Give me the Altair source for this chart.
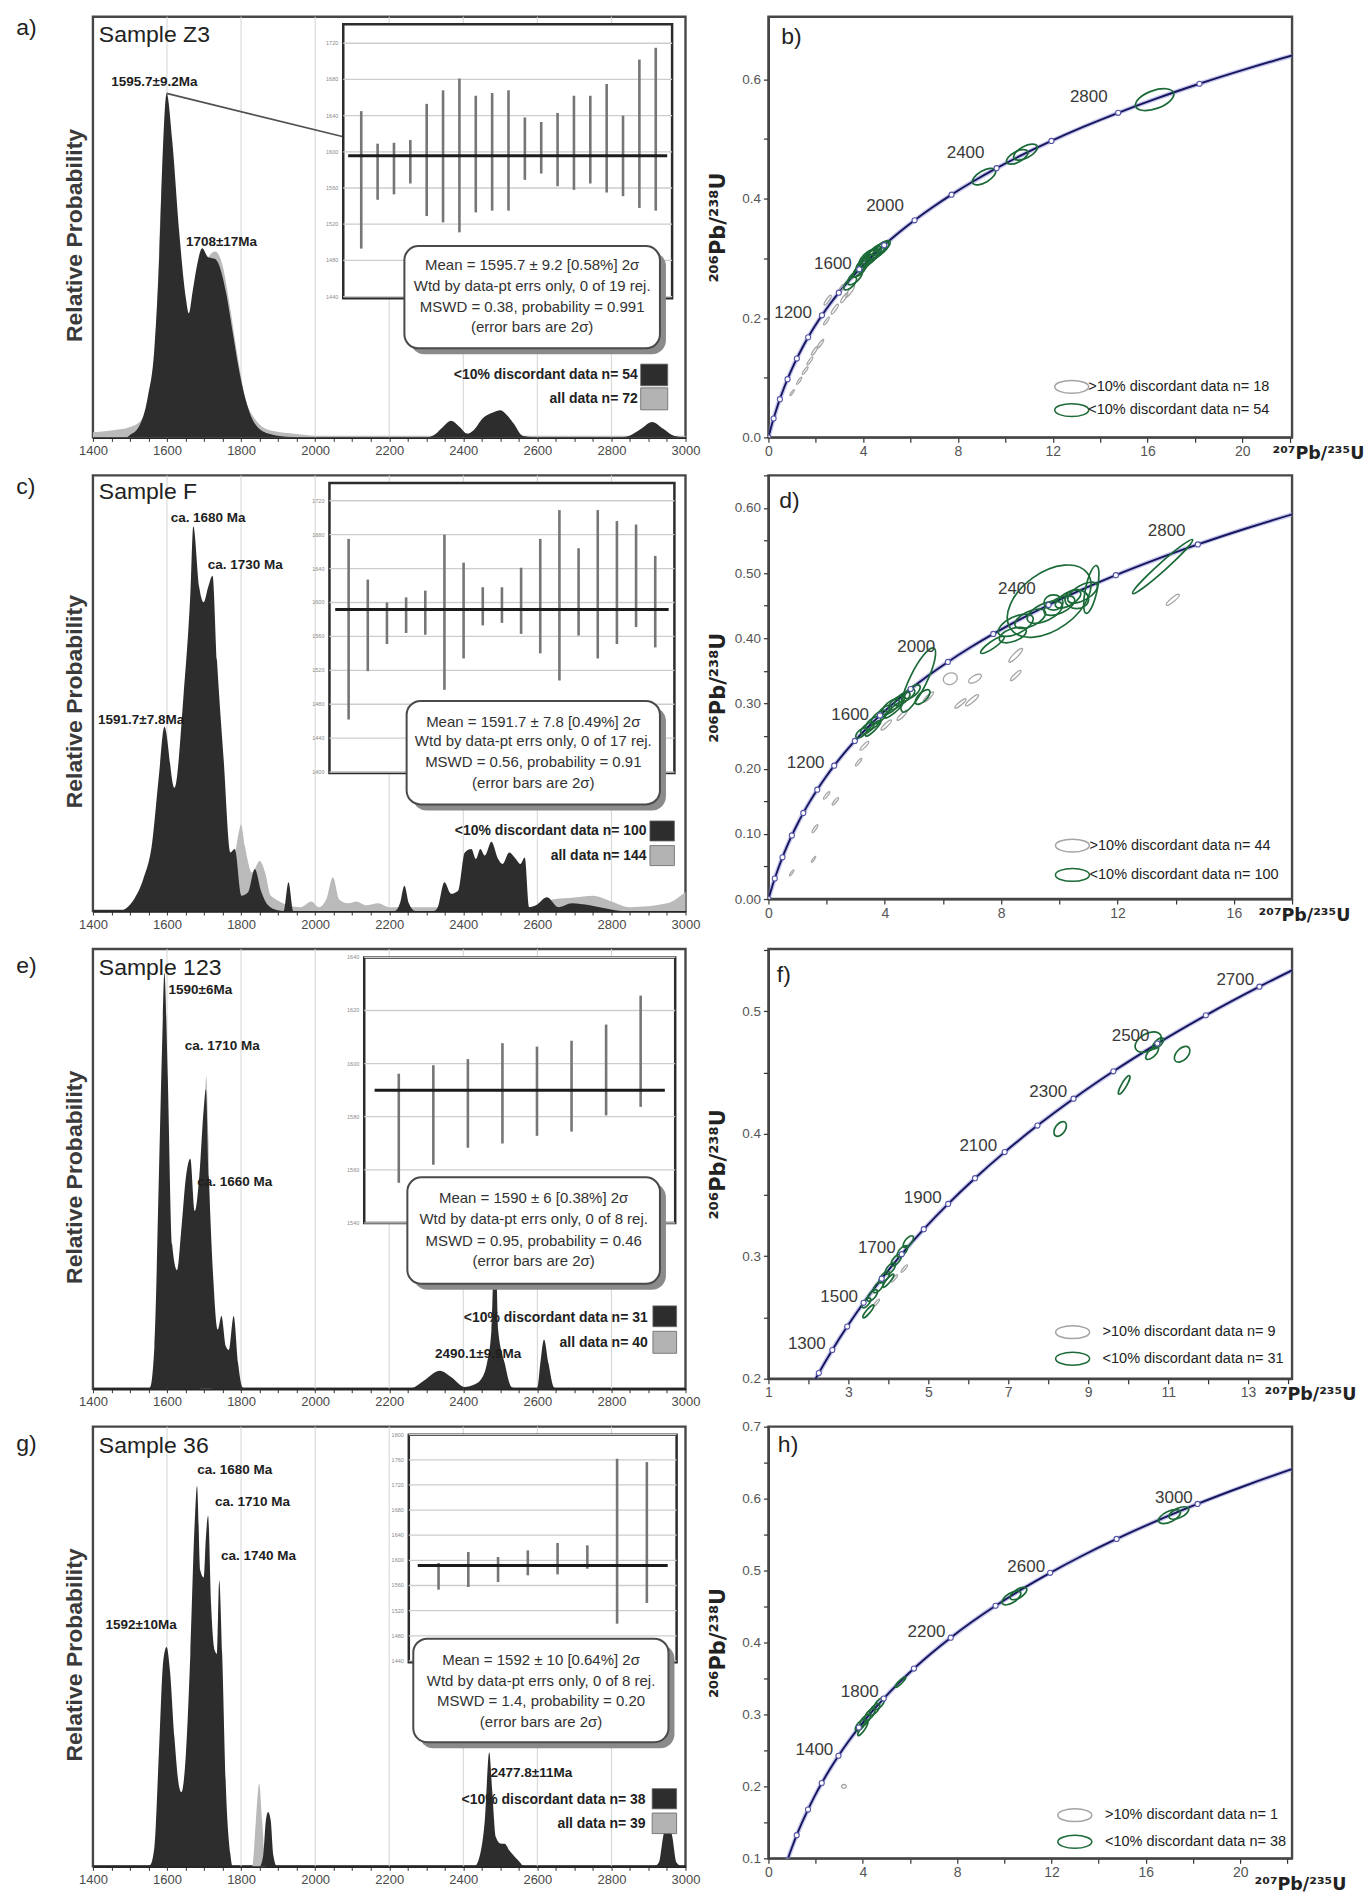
import json
import altair as alt
import pandas as pd

FONT = "Liberation Sans"
SUPFONT = "DejaVu Sans"

# ---------------- relative probability curves (age Ma, relative probability) ----------------
a_dark_age = [1400, 1490, 1500, 1524, 1548, 1566, 1578, 1587, 1599, 1614, 1633, 1651, 1659, 1669, 1681, 1695, 1711,
              1729, 1741, 1759, 1777, 1795, 1813, 1837, 1873, 1922, 1994,
              2300, 2325, 2345, 2367, 2390, 2410, 2428, 2452, 2480, 2500, 2520, 2536, 2560, 2600,
              2820, 2849, 2880, 2910, 2940, 2970, 3000]
a_dark_rel = [0, 0, 0.007, 0.031, 0.117, 0.26, 0.5, 0.787, 1.0, 0.864, 0.596, 0.404, 0.361, 0.423, 0.5, 0.55, 0.524,
              0.519, 0.5, 0.423, 0.308, 0.193, 0.107, 0.04, 0.011, 0.002, 0,
              0, 0.01, 0.03, 0.048, 0.03, 0.011, 0.021, 0.055, 0.072, 0.079, 0.062, 0.04, 0.005, 0,
              0, 0.005, 0.025, 0.045, 0.025, 0.004, 0]
a_all_age = [1400, 1450, 1500, 1530, 1560, 1599, 1650, 1700, 1730, 1750, 1770, 1790, 1810, 1840, 1880, 1950, 2000, 3000]
a_all_rel = [0.015, 0.02, 0.03, 0.05, 0.15, 0.9, 0.3, 0.5, 0.54, 0.5, 0.38, 0.24, 0.12, 0.05, 0.02, 0.01, 0.005, 0.005]

c_dark_age = [1400, 1470, 1488, 1512, 1536, 1560, 1578, 1593, 1620, 1645, 1663, 1671, 1687, 1699, 1711, 1723, 1735,
              1753, 1771, 1783, 1801, 1819, 1837, 1855, 1873, 1898, 1915, 1928, 1941, 1960,
              2215, 2229, 2241, 2253, 2270, 2320, 2331, 2349, 2367, 2386, 2404, 2422, 2434, 2446, 2458, 2476,
              2494, 2506, 2524, 2542, 2554, 2566, 2578, 2596, 2626, 2657, 2693, 2741, 2789, 2830, 3000]
c_dark_rel = [0, 0, 0.006, 0.032, 0.083, 0.178, 0.35, 0.479, 0.32, 0.565, 0.824, 1.0, 0.841, 0.802, 0.841, 0.871,
              0.651, 0.393, 0.152, 0.161, 0.04, 0.049, 0.109, 0.049, 0.015, 0.002, 0, 0.075, 0, 0,
              0, 0.02, 0.066, 0.02, 0, 0, 0.01, 0.075, 0.045, 0.053, 0.152, 0.161, 0.135, 0.161, 0.144, 0.18,
              0.135, 0.122, 0.152, 0.135, 0.122, 0.139, 0.01, 0.015, 0.036, 0.01, 0.02, 0.015, 0.006, 0, 0]
c_all_age = [1400, 1760, 1780, 1793, 1800, 1810, 1830, 1850, 1865, 1880, 1960, 1990, 2010, 2030, 2048, 2065, 2090,
             2110, 2140, 2170, 2200, 2600, 2640, 2700, 2750, 2800, 2850, 2950, 3000]
c_all_rel = [0, 0, 0.12, 0.2, 0.225, 0.17, 0.1, 0.13, 0.1, 0.04, 0.01, 0.025, 0.01, 0.03, 0.088, 0.03, 0.02,
             0.025, 0.015, 0.02, 0.01, 0.01, 0.03, 0.035, 0.04, 0.025, 0.01, 0.02, 0.05]

e_dark_age = [1400, 1545, 1554, 1566, 1578, 1587, 1593, 1602, 1614, 1627, 1639, 1651, 1663, 1675, 1687, 1699, 1705,
              1713, 1725, 1737, 1747, 1759, 1767, 1780, 1792, 1804, 1815,
              2250, 2269, 2295, 2337, 2367, 2404, 2430, 2446, 2464, 2476, 2486, 2494, 2512, 2530, 2545, 2590,
              2600, 2608, 2618, 2630, 2645, 2660, 3000]
e_dark_rel = [0, 0, 0.003, 0.102, 0.508, 0.833, 1.0, 0.752, 0.346, 0.285, 0.386, 0.508, 0.553, 0.427, 0.508, 0.671,
              0.72, 0.508, 0.264, 0.142, 0.175, 0.102, 0.093, 0.175, 0.061, 0.003, 0,
              0, 0.004, 0.02, 0.043, 0.028, 0.004, 0.01, 0.02, 0.061, 0.142, 0.4, 0.142, 0.061, 0.004, 0, 0,
              0.003, 0.061, 0.118, 0.061, 0.003, 0, 0]
e_all_age = [1400, 1540, 1560, 1690, 1700, 1706, 1712, 1722, 3000]
e_all_rel = [0, 0, 0, 0, 0.6, 0.75, 0.6, 0, 0]

g_dark_age = [1400, 1540, 1554, 1566, 1578, 1590, 1599, 1608, 1620, 1633, 1639, 1651, 1663, 1675, 1681, 1690, 1699,
              1705, 1711, 1719, 1729, 1735, 1741, 1749, 1759, 1771, 1777,
              1850, 1860, 1867, 1873, 1880, 1887, 1897,
              2430, 2445, 2458, 2470, 2478, 2488, 2500, 2512, 2524, 2548, 2565,
              2915, 2928, 2940, 2952, 2964, 2976, 2990, 3000]
g_dark_rel = [0, 0, 0.003, 0.051, 0.296, 0.541, 0.576, 0.514, 0.339, 0.208, 0.195, 0.296, 0.558, 0.908, 1.0, 0.777,
              0.759, 0.864, 0.921, 0.689, 0.567, 0.558, 0.751, 0.558, 0.208, 0.033, 0,
              0, 0.03, 0.121, 0.143, 0.121, 0.03, 0,
              0, 0.03, 0.12, 0.3, 0.2, 0.077, 0.06, 0.059, 0.042, 0.016, 0,
              0, 0.01, 0.08, 0.12, 0.08, 0.01, 0, 0]
g_all_age = [1400, 1830, 1840, 1849, 1857, 1866, 3000]
g_all_rel = [0, 0, 0.12, 0.217, 0.12, 0, 0]

# ---------------- weighted-mean insets (2 sigma error bars, Ma) ----------------
a_hi = [1645, 1609, 1610, 1613, 1653, 1668, 1681, 1662, 1665, 1668, 1638, 1633, 1643, 1662, 1662, 1675, 1640, 1702, 1715]
a_lo = [1493, 1547, 1553, 1565, 1529, 1522, 1511, 1533, 1535, 1535, 1569, 1576, 1562, 1558, 1565, 1555, 1551, 1538, 1535]
a_mean = 1595.7
a_ticks = [1440, 1480, 1520, 1560, 1600, 1640, 1680, 1720]

c_hi = [1675, 1627, 1600, 1606, 1614, 1680, 1647, 1618, 1618, 1641, 1675, 1709, 1664, 1709, 1696, 1692, 1655]
c_lo = [1462, 1519, 1551, 1564, 1562, 1497, 1534, 1573, 1576, 1563, 1540, 1508, 1561, 1534, 1551, 1571, 1547]
c_mean = 1591.7
c_ticks = [1400, 1440, 1480, 1520, 1560, 1600, 1640, 1680, 1720]

e_hi = [1596.2, 1599.4, 1601.7, 1607.7, 1606.4, 1608.6, 1614.7, 1625.6]
e_lo = [1555.1, 1561.9, 1568.3, 1569.9, 1572.8, 1574.4, 1580.5, 1583.7]
e_mean = 1590
e_ticks = [1540, 1560, 1580, 1600, 1620, 1640]

g_hi = [1595.8, 1613.3, 1605.3, 1615.9, 1627.6, 1623.9, 1761.6, 1756.4]
g_lo = [1553.4, 1557.6, 1565.5, 1576.2, 1577.7, 1586.7, 1499.3, 1532.3]
g_mean = 1592
g_ticks = [1440, 1480, 1520, 1560, 1600, 1640, 1680, 1720, 1760, 1800]

# ---------------- texts ----------------
a_text = ["Mean = 1595.7 ± 9.2  [0.58%]  2σ", "Wtd by data-pt errs only, 0 of 19 rej.",
          "MSWD = 0.38, probability = 0.991", "(error bars are 2σ)"]
c_text = ["Mean = 1591.7 ± 7.8  [0.49%]  2σ", "Wtd by data-pt errs only, 0 of 17 rej.",
          "MSWD = 0.56, probability = 0.91", "(error bars are 2σ)"]
e_text = ["Mean = 1590 ± 6  [0.38%]  2σ", "Wtd by data-pt errs only, 0 of 8 rej.",
          "MSWD = 0.95, probability = 0.46", "(error bars are 2σ)"]
g_text = ["Mean = 1592 ± 10  [0.64%]  2σ", "Wtd by data-pt errs only, 0 of 8 rej.",
          "MSWD = 1.4, probability = 0.20", "(error bars are 2σ)"]
a_leg = ["<10% discordant  data n= 54", "all  data n= 72"]
c_leg = ["<10% discordant  data n= 100", "all  data n= 144"]
e_leg = ["<10% discordant  data n= 31", "all  data n= 40"]
g_leg = ["<10% discordant  data n= 38", "all  data n= 39"]
b_leg = [">10% discordant  data n= 18", "<10% discordant  data n= 54"]
d_leg = [">10% discordant  data n= 44", "<10% discordant  data n= 100"]
f_leg = [">10% discordant  data n= 9", "<10% discordant  data n= 31"]
h_leg = [">10% discordant  data n= 1", "<10% discordant  data n= 38"]

# ---------------- concordia (age Ma, 207Pb/235U, 206Pb/238U) ----------------
conc_age = [0, 100, 200, 300, 400, 500, 600, 700, 800, 900, 1000, 1100, 1200, 1300, 1400, 1500, 1600, 1700,
            1800, 1900, 2000, 2100, 2200, 2300, 2400, 2500, 2600, 2700, 2800, 2900, 3000, 3100, 3200, 3300, 3400]
conc_x = [0, 0.1035, 0.2177, 0.3437, 0.4828, 0.6363, 0.8056, 0.9925, 1.1987, 1.4263, 1.6774, 1.9545, 2.2603,
          2.5977, 2.9702, 3.3810, 3.8344, 4.3348, 4.8869, 5.4962, 6.1685, 6.9105, 7.7292, 8.6326, 9.6296,
          10.7297, 11.9437, 13.2834, 14.7617, 16.3929, 18.1931, 20.1795, 22.3716, 24.7904, 27.4597]
conc_y = [0, 0.01563, 0.03151, 0.04764, 0.06402, 0.08065, 0.09754, 0.11470, 0.13213, 0.14983, 0.16780, 0.18606,
          0.20460, 0.22344, 0.24256, 0.26199, 0.28172, 0.30175, 0.32211, 0.34277, 0.36377, 0.38509, 0.40674,
          0.42873, 0.45107, 0.47375, 0.49679, 0.52019, 0.54396, 0.56810, 0.59261, 0.61751, 0.64280, 0.66848, 0.69456]

# ---------------- U-Pb ellipses: centre, half length (207/235 units), shape class, tilt (deg) ----------------
b_green_x = [3.45, 3.65, 3.85, 4.0, 4.15, 4.3, 4.45, 4.6, 4.75, 4.2, 3.9, 4.5, 4.85, 9.1, 10.5, 10.85, 16.3]
b_green_y = [0.258, 0.268, 0.280, 0.290, 0.296, 0.302, 0.308, 0.312, 0.316, 0.300, 0.284, 0.305, 0.320, 0.437, 0.470, 0.478, 0.566]
b_green_a = [0.35, 0.4, 0.35, 0.4, 0.35, 0.45, 0.4, 0.45, 0.4, 0.5, 0.5, 0.5, 0.35, 0.55, 0.5, 0.55, 0.85]
b_green_c = ["mid", "mid", "mid", "mid", "mid", "mid", "mid", "mid", "mid", "mid", "thin", "thin", "mid", "mid", "mid", "mid", "mid"]
b_green_t = [45, 45, 45, 45, 45, 42, 42, 40, 40, 45, 50, 40, 38, 30, 28, 28, 20]
b_grey_x = [1.0, 1.3, 1.55, 1.75, 1.95, 2.2, 2.45, 2.5, 2.8, 3.05, 3.2, 3.45]
b_grey_y = [0.075, 0.095, 0.112, 0.128, 0.145, 0.157, 0.195, 0.23, 0.215, 0.248, 0.234, 0.245]
b_grey_a = [0.15, 0.18, 0.2, 0.2, 0.22, 0.22, 0.2, 0.25, 0.25, 0.25, 0.25, 0.3]
b_grey_c = ["thin", "thin", "thin", "thin", "thin", "thin", "thin", "thin", "thin", "thin", "thin", "thin"]
b_grey_t = [55, 55, 55, 55, 55, 55, 55, 55, 55, 55, 55, 55]

d_green_x = [3.2, 3.4, 3.6, 3.8, 4.0, 4.2, 4.4, 4.6, 4.8, 4.95, 3.6, 4.3, 5.15, 5.3, 9.65, 8.5, 9.0, 9.5, 10.0,
             10.3, 10.8, 11.1, 10.6, 9.8, 8.4, 7.7, 13.55]
d_green_y = [0.255, 0.262, 0.270, 0.279, 0.288, 0.295, 0.301, 0.307, 0.313, 0.318, 0.262, 0.290, 0.336, 0.310,
             0.457, 0.420, 0.430, 0.440, 0.450, 0.460, 0.470, 0.475, 0.460, 0.455, 0.405, 0.390, 0.510]
d_green_a = [0.3, 0.35, 0.4, 0.4, 0.35, 0.45, 0.4, 0.4, 0.35, 0.4, 0.45, 0.5, 1.5, 0.4, 2.0, 0.8, 0.7, 0.8, 0.7,
             0.6, 0.7, 1.03, 0.5, 0.4, 0.6, 0.6, 1.7]
d_green_c = ["mid", "mid", "mid", "mid", "mid", "mid", "mid", "mid", "mid", "mid", "thin", "thin", "thin", "mid",
             "wide", "mid", "mid", "mid", "mid", "mid", "mid", "thin", "round", "round", "mid", "thin", "line"]
d_green_t = [40, 40, 40, 40, 40, 40, 40, 40, 40, 40, 45, 40, 64, 45, 36, 25, 25, 25, 25, 30, 30, 78, 0, 0, 20, 35, 42]
d_grey_x = [0.8, 1.55, 1.6, 2.0, 2.3, 3.1, 3.3, 4.05, 4.6, 5.5, 6.25, 6.6, 7.0, 7.1, 8.5, 8.5, 13.9]
d_grey_y = [0.04, 0.061, 0.108, 0.159, 0.15, 0.21, 0.235, 0.267, 0.282, 0.31, 0.338, 0.3, 0.305, 0.338, 0.343, 0.374, 0.459]
d_grey_a = [0.15, 0.15, 0.2, 0.2, 0.2, 0.2, 0.25, 0.3, 0.3, 0.3, 0.3, 0.3, 0.35, 0.3, 0.3, 0.4, 0.35]
d_grey_c = ["thin", "thin", "thin", "thin", "thin", "thin", "thin", "thin", "thin", "thin", "round", "thin", "thin",
            "mid", "thin", "thin", "thin"]
d_grey_t = [55, 55, 55, 50, 50, 50, 45, 45, 45, 45, 20, 40, 40, 30, 45, 45, 40]

f_green_x = [3.45, 3.6, 3.75, 3.9, 4.05, 4.2, 4.35, 4.5, 3.5, 4.0, 8.3, 9.9, 10.6, 10.75, 11.35, 10.5]
f_green_y = [0.262, 0.268, 0.275, 0.283, 0.290, 0.297, 0.304, 0.312, 0.255, 0.280, 0.404, 0.440, 0.466, 0.474, 0.465, 0.475]
f_green_a = [0.25, 0.3, 0.3, 0.3, 0.3, 0.3, 0.3, 0.3, 0.35, 0.35, 0.35, 0.45, 0.35, 0.3, 0.4, 0.6]
f_green_c = ["mid", "mid", "mid", "mid", "mid", "mid", "mid", "mid", "thin", "thin", "wide", "thin", "mid", "mid", "wide", "wide"]
f_green_t = [50, 50, 50, 50, 50, 50, 50, 50, 50, 50, 55, 60, 45, 45, 45, 30]
f_grey_x = [3.7, 4.15, 4.4]
f_grey_y = [0.262, 0.282, 0.29]
f_grey_a = [0.2, 0.2, 0.2]
f_grey_c = ["thin", "thin", "thin"]
f_grey_t = [50, 50, 50]

h_green_x = [3.9, 4.1, 4.3, 4.5, 4.7, 4.0, 5.6, 10.3, 10.6, 17.0, 17.4]
h_green_y = [0.285, 0.292, 0.300, 0.307, 0.315, 0.280, 0.345, 0.462, 0.468, 0.575, 0.580]
h_green_a = [0.3, 0.3, 0.3, 0.3, 0.3, 0.35, 0.3, 0.45, 0.4, 0.5, 0.45]
h_green_c = ["mid", "mid", "mid", "mid", "mid", "thin", "thin", "mid", "mid", "mid", "mid"]
h_green_t = [50, 50, 50, 50, 50, 55, 45, 32, 32, 25, 25]
h_grey_x = [3.2]
h_grey_y = [0.2]
h_grey_a = [0.1]
h_grey_c = ["round"]
h_grey_t = [0]

# ---------------- styling / layout ----------------
W_L = 593
W_R = 524
DARK = "#2d2d2d"
LIGHT = "#bababa"


def ell(r):
    return f"M-1,0A1,{r},0,1,1,1,0A1,{r},0,1,1,-1,0Z"


PATHS = {"line": ell(0.1), "thin": ell(0.24), "mid": ell(0.45), "wide": ell(0.6), "round": ell(0.8)}
P_LEG = ell(0.38)


def label_expr(vals):
    return f"indexof({json.dumps(vals)}, datum.value) >= 0 ? datum.label : ''"


def left_panel(p):
    H = p["H"]
    X = alt.Scale(domain=[1400, 3000], nice=False, zero=False)
    Y = alt.Scale(domain=[0, p["ymax"]], nice=False, zero=False)
    xax = alt.Axis(values=list(range(1400, 3001, 50)),
                   labelExpr="datum.value % 200 == 0 ? datum.label : ''", format="d",
                   grid=False, tickSize=4, tickColor="#333", tickWidth=1, labelFontSize=13,
                   labelColor="#4a4a4a", labelPadding=3, domainColor="#262626", domainWidth=2.5,
                   title=None, labelOverlap=False, labelFlush=False)
    yax = alt.Axis(title="Relative Probability", labels=False, ticks=False, domain=False, grid=False,
                   titleFontSize=23, titleFontWeight="bold", titleColor="#3a3a3a", titleX=-18,
                   titleY=H / 2 + 8, titleAngle=270, titleAlign="center", titleBaseline="middle")
    XE = alt.X("age:Q", scale=X, axis=xax)
    YE = alt.Y("rel:Q", scale=Y, axis=yax)

    grid = alt.Chart(pd.DataFrame({"age": list(range(1600, 3000, 200))})).mark_rule(
        color="#d4d4d4", strokeWidth=1).encode(x=XE)
    light = alt.Chart(pd.DataFrame({"age": p["all_age"], "rel": p["all_rel"]})).mark_area(
        color=LIGHT, interpolate="monotone").encode(x=XE, y=YE)
    dark = alt.Chart(pd.DataFrame({"age": p["dark_age"], "rel": p["dark_rel"]})).mark_area(
        color=DARK, interpolate="monotone").encode(x=XE, y=YE)
    bottom = [grid, light, dark]
    if p.get("connector"):
        cp = p["connector"]
        bottom.append(alt.Chart(pd.DataFrame({"age": [cp[0][0], cp[1][0]], "rel": [cp[0][1], cp[1][1]]}))
                      .mark_line(color="#505050", strokeWidth=1.6).encode(x=XE, y=YE))
    main_bottom = alt.layer(*bottom)

    # inset weighted-mean plot
    IX = alt.Scale(domain=p["ixdom"], range=p["ixr"], nice=False, zero=False)
    IY = alt.Scale(domain=p["iydom"], range=p["iyr"], nice=False, zero=False)
    x0, x1 = p["ixdom"]
    y0, y1 = p["iydom"]
    ibox = alt.Chart(pd.DataFrame({"x0": [x0], "x1": [x1], "y0": [y0], "y1": [y1]})).mark_rect(
        fill="white", stroke="#2c2c2c", strokeWidth=2.5).encode(
        x=alt.X("x0:Q", scale=IX, axis=None), x2="x1:Q",
        y=alt.Y("y0:Q", scale=IY, axis=None), y2="y1:Q")
    tdf = pd.DataFrame({"t": p["iticks"]})
    tdf["x0"] = x0
    tdf["x1"] = x1
    igrid = alt.Chart(tdf).mark_rule(color="#cdcdcd", strokeWidth=1.3).encode(
        x=alt.X("x0:Q", scale=IX, axis=None), x2="x1:Q", y=alt.Y("t:Q", scale=IY, axis=None))
    ilab = alt.Chart(tdf).mark_text(align="right", dx=-5, fontSize=5.5, color="#8a8a8a").encode(
        x=alt.X("x0:Q", scale=IX, axis=None), y=alt.Y("t:Q", scale=IY, axis=None),
        text=alt.Text("t:Q", format="d"))
    bdf = pd.DataFrame({"i": list(range(1, len(p["lo"]) + 1)), "lo": p["lo"], "hi": p["hi"]})
    ibars = alt.Chart(bdf).mark_rule(color="#767676", strokeWidth=2.6).encode(
        x=alt.X("i:Q", scale=IX, axis=None), y=alt.Y("lo:Q", scale=IY, axis=None), y2="hi:Q")
    imean = alt.Chart(pd.DataFrame({"x0": [x0 + 0.3], "x1": [x1 - 0.3], "m": [p["mean"]]})).mark_rule(
        color="#1c1c1c", strokeWidth=3).encode(
        x=alt.X("x0:Q", scale=IX, axis=None), x2="x1:Q", y=alt.Y("m:Q", scale=IY, axis=None))
    inset = alt.layer(ibox, igrid, ilab, ibars, imean)

    # annotations
    def XT(f):
        return alt.X(f"{f}:Q", scale=X, axis=None)

    def YT(f):
        return alt.Y(f"{f}:Q", scale=Y, axis=None)

    tb = p["tbox"]
    tbdf = pd.DataFrame({"x0": [tb[0]], "x1": [tb[1]], "y0": [tb[2]], "y1": [tb[3]]})
    shadow = alt.Chart(tbdf).mark_rect(fill="#8a8a8a", cornerRadius=14, xOffset=6, x2Offset=6,
                                       yOffset=6, y2Offset=6).encode(
        x=XT("x0"), x2="x1:Q", y=YT("y0"), y2="y1:Q")
    tbox = alt.Chart(tbdf).mark_rect(fill="white", stroke="#4a4a4a", strokeWidth=2, cornerRadius=14).encode(
        x=XT("x0"), x2="x1:Q", y=YT("y0"), y2="y1:Q")
    tl = alt.Chart(pd.DataFrame({"x": [p["tcx"]] * 4, "y": p["tly"], "t": p["tlines"]})).mark_text(
        fontSize=15, color="#333").encode(x=XT("x"), y=YT("y"), text="t:N")
    lg = p["leg"]
    lsq = alt.Chart(pd.DataFrame({"x0": [lg[0], lg[0]], "x1": [lg[1], lg[1]],
                                  "y0": [lg[2][0], lg[3][0]], "y1": [lg[2][1], lg[3][1]],
                                  "c": [DARK, "#b3b3b3"]})).mark_rect(stroke="#666", strokeWidth=0.8).encode(
        x=XT("x0"), x2="x1:Q", y=YT("y0"), y2="y1:Q", color=alt.Color("c:N", scale=None))
    ltx = alt.Chart(pd.DataFrame({"x": [p["legx"]] * 2, "y": list(p["legy"]), "t": p["legtext"]})).mark_text(
        align="right", fontSize=14, fontWeight="bold", color="#222").encode(x=XT("x"), y=YT("y"), text="t:N")
    pk = alt.Chart(pd.DataFrame({"t": [q[0] for q in p["peaks"]], "x": [q[1] for q in p["peaks"]],
                                 "y": [q[2] for q in p["peaks"]]})).mark_text(
        fontSize=13.5, fontWeight="bold", color="#1e1e1e").encode(x=XT("x"), y=YT("y"), text="t:N")
    sm = p["sample"]
    smp = alt.Chart(pd.DataFrame({"t": [sm[0]], "x": [sm[1]], "y": [sm[2]]})).mark_text(
        align="left", fontSize=23, color="#222").encode(x=XT("x"), y=YT("y"), text="t:N")
    lt = p["letter"]
    let = alt.Chart(pd.DataFrame({"t": [lt[0]], "x": [lt[1]], "y": [lt[2]]})).mark_text(
        align="left", fontSize=23, color="#222").encode(x=XT("x"), y=YT("y"), text="t:N")
    main_top = alt.layer(shadow, tbox, tl, lsq, ltx, pk, smp, let)

    return alt.layer(main_bottom, inset, main_top).resolve_scale(
        x="independent", y="independent").properties(width=W_L, height=H)


def ell_df(xs, ys, as_, cs, ts):
    return pd.DataFrame({"x": xs, "y": ys, "a": as_, "c": cs, "t": ts})


def conc_panel(p):
    H = p["H"]
    xd, yd = p["xdom"], p["ydom"]
    XS = alt.Scale(domain=xd, nice=False, zero=False)
    YS = alt.Scale(domain=yd, nice=False, zero=False)
    xax = alt.Axis(values=p["xticks"], format="d", labelExpr=label_expr(p["xlab"]),
                   grid=False, tickSize=5, tickColor="#333", tickWidth=1.2, labelFontSize=14,
                   labelColor="#555", labelPadding=2, labelFlush=False, labelOverlap=False,
                   domainColor="#444", domainWidth=2,
                   title="²⁰⁷Pb/²³⁵U", titleFont=SUPFONT, titleFontSize=17.5, titleFontWeight="bold",
                   titleColor="#222", titleX=p["tx"], titleY=p["ty"], titleAlign="left",
                   titleBaseline="middle", titleAngle=0)
    yax = alt.Axis(values=p["yticks"], format=p["yfmt"], labelExpr=label_expr(p["ylab"]),
                   grid=False, tickSize=5, tickColor="#333", tickWidth=1.2, labelFontSize=13.5,
                   labelColor="#555", labelPadding=3, labelFlush=False, labelOverlap=False,
                   domainColor="#444", domainWidth=2,
                   title="²⁰⁶Pb/²³⁸U", titleFont=SUPFONT, titleFontSize=21, titleFontWeight="bold",
                   titleColor="#222", titleX=-50, titleY=H / 2, titleAngle=270, titleAlign="center",
                   titleBaseline="middle")
    XE = alt.X("x:Q", scale=XS, axis=xax)
    YE = alt.Y("y:Q", scale=YS, axis=yax)
    conc = pd.DataFrame({"age": conc_age, "x": conc_x, "y": conc_y})
    halo = alt.Chart(conc).mark_line(color="#8e8edc", strokeWidth=4.5, opacity=0.5, clip=True,
                                     interpolate="monotone").encode(x=XE, y=YE)
    cline = alt.Chart(conc).mark_line(color="#16165c", strokeWidth=1.9, clip=True,
                                      interpolate="monotone").encode(x=XE, y=YE)
    ppu = W_R / (xd[1] - xd[0])
    SH = alt.Shape("c:N", scale=alt.Scale(domain=list(PATHS.keys()), range=list(PATHS.values())), legend=None)
    SZ = alt.Size("a:Q", scale=alt.Scale(type="pow", exponent=2, domain=[0, 1], range=[0, (2 * ppu) ** 2]),
                  legend=None)
    AN = alt.Angle("t:Q", scale=alt.Scale(domain=[0, 360], range=[360, 0]), legend=None)
    grey = alt.Chart(p["grey"]).mark_point(filled=False, color="#a4a4a4", strokeWidth=1.3, opacity=1,
                                           clip=True).encode(x=XE, y=YE, shape=SH, size=SZ, angle=AN)
    green = alt.Chart(p["green"]).mark_point(filled=False, color="#1b6a37", strokeWidth=1.7, opacity=1,
                                             clip=True).encode(x=XE, y=YE, shape=SH, size=SZ, angle=AN)
    markers = alt.Chart(conc).transform_filter(f"datum.age % {p['step']} == 0").mark_point(
        shape="circle", filled=True, fill="white", stroke="#5555a8", strokeWidth=1.1, size=26,
        opacity=1, clip=True).encode(x=XE, y=YE)
    lab = alt.Chart(pd.DataFrame({"t": [q[0] for q in p["labels"]], "x": [q[1] for q in p["labels"]],
                                  "y": [q[2] for q in p["labels"]]})).mark_text(
        fontSize=17, color="#3a3a3a").encode(x=XE, y=YE, text="t:N")
    lt = p["letter"]
    let = alt.Chart(pd.DataFrame({"t": [lt[0]], "x": [lt[1]], "y": [lt[2]]})).mark_text(
        align="left", fontSize=23, color="#222").encode(x=XE, y=YE, text="t:N")
    lg = p["leg"]
    licon = alt.Chart(pd.DataFrame({"x": [lg[0], lg[0]], "y": [lg[2], lg[3]],
                                    "c": ["#a4a4a4", "#1b6a37"]})).mark_point(
        shape=P_LEG, size=1156, filled=False, strokeWidth=1.5, opacity=1).encode(
        x=XE, y=YE, color=alt.Color("c:N", scale=None))
    ltx = alt.Chart(pd.DataFrame({"x": [lg[1], lg[1]], "y": [lg[2], lg[3]], "t": p["legtext"]})).mark_text(
        align="left", fontSize=14.5, color="#222").encode(x=XE, y=YE, text="t:N")
    return alt.layer(halo, cline, grey, green, markers, lab, let, licon, ltx).properties(width=W_R, height=H)


LETTER_X = 1193
A = dict(H=421, ymax=1.223, dark_age=a_dark_age, dark_rel=a_dark_rel, all_age=a_all_age, all_rel=a_all_rel,
         ixdom=[-0.1, 20], iydom=[1438, 1741], iticks=a_ticks, ixr=[250.5, 579.6], iyr=[281.9, 7.6],
         lo=a_lo, hi=a_hi, mean=a_mean,
         tbox=(2241, 2931, 0.259, 0.556), tcx=2586, tly=[0.5, 0.441, 0.38, 0.32], tlines=a_text,
         leg=(2879, 2952, (0.150, 0.213), (0.080, 0.144)), legx=2871, legy=(0.182, 0.112), legtext=a_leg,
         peaks=[("1595.7±9.2Ma", 1566, 1.032), ("1708±17Ma", 1747, 0.567)],
         sample=("Sample Z3", 1416, 1.17), letter=("a)", LETTER_X, 1.19),
         connector=[(1599, 1.0), (2076, 0.874)])
C = dict(H=436, ymax=1.132, dark_age=c_dark_age, dark_rel=c_dark_rel, all_age=c_all_age, all_rel=c_all_rel,
         ixdom=[0, 18], iydom=[1399, 1741], iticks=c_ticks, ixr=[236.7, 581.9], iyr=[297.8, 7.6],
         lo=c_lo, hi=c_hi, mean=c_mean,
         tbox=(2247, 2931, 0.277, 0.546), tcx=2589, tly=[0.492, 0.441, 0.387, 0.333], tlines=c_text,
         leg=(2904, 2970, (0.182, 0.234), (0.118, 0.17)), legx=2895, legy=(0.208, 0.144), legtext=c_leg,
         peaks=[("ca. 1680 Ma", 1711, 1.02), ("ca. 1730 Ma", 1811, 0.898), ("1591.7±7.8Ma", 1530, 0.497)],
         sample=("Sample F", 1416, 1.09), letter=("c)", LETTER_X, 1.103))
E = dict(H=440, ymax=1.057, dark_age=e_dark_age, dark_rel=e_dark_rel, all_age=e_all_age, all_rel=e_all_rel,
         ixdom=[0, 9], iydom=[1540, 1640], iticks=e_ticks, ixr=[271.5, 582.7], iyr=[274.1, 8.4],
         lo=e_lo, hi=e_hi, mean=e_mean,
         tbox=(2249, 2931, 0.252, 0.508), tcx=2590, tly=[0.458, 0.407, 0.355, 0.307], tlines=e_text,
         leg=(2912, 2976, (0.149, 0.199), (0.085, 0.138)), legx=2898, legy=(0.171, 0.11), legtext=e_leg,
         peaks=[("1590±6Ma", 1690, 0.959), ("ca. 1710 Ma", 1749, 0.825), ("ca. 1660 Ma", 1783, 0.496),
                ("2490.1±9.9Ma", 2440, 0.084)],
         sample=("Sample 123", 1416, 1.012), letter=("e)", LETTER_X, 1.016))
G = dict(H=440, ymax=1.155, dark_age=g_dark_age, dark_rel=g_dark_rel, all_age=g_all_age, all_rel=g_all_rel,
         ixdom=[0, 9], iydom=[1438, 1800], iticks=g_ticks, ixr=[316.1, 584.1], iyr=[235.7, 8.0],
         lo=g_lo, hi=g_hi, mean=g_mean,
         tbox=(2265, 2954, 0.326, 0.598), tcx=2610, tly=[0.542, 0.488, 0.433, 0.379], tlines=g_text,
         leg=(2910, 2976, (0.151, 0.204), (0.086, 0.14)), legx=2892, legy=(0.175, 0.11), legtext=g_leg,
         peaks=[("ca. 1680 Ma", 1783, 1.041), ("ca. 1710 Ma", 1831, 0.956), ("ca. 1740 Ma", 1847, 0.816),
                ("1592±10Ma", 1530, 0.634), ("2477.8±11Ma", 2584, 0.245)],
         sample=("Sample 36", 1416, 1.105), letter=("g)", LETTER_X, 1.109))

B = dict(H=421, xdom=[0, 22.1], ydom=[0, 0.705], step=200,
         xticks=[0, 2, 4, 6, 8, 10, 12, 14, 16, 18, 20, 22], xlab=[0, 4, 8, 12, 16, 20],
         yticks=[0.0, 0.1, 0.2, 0.3, 0.4, 0.5, 0.6], ylab=[0.0, 0.2, 0.4, 0.6], yfmt=".1f", tx=504, ty=16,
         green=ell_df(b_green_x, b_green_y, b_green_a, b_green_c, b_green_t),
         grey=ell_df(b_grey_x, b_grey_y, b_grey_a, b_grey_c, b_grey_t),
         labels=[("1200", 1.04, 0.209), ("1600", 2.72, 0.29), ("2000", 4.92, 0.387), ("2400", 8.32, 0.476),
                 ("2800", 13.52, 0.57)],
         letter=("b)", 0.54, 0.671), leg=(12.8, 13.5, 0.0847, 0.0457), legtext=b_leg)
D = dict(H=424, xdom=[0, 18], ydom=[0, 0.65], step=200,
         xticks=[0, 2, 4, 6, 8, 10, 12, 14, 16, 18], xlab=[0, 4, 8, 12, 16],
         yticks=[0.0, 0.05, 0.1, 0.15, 0.2, 0.25, 0.3, 0.35, 0.4, 0.45, 0.5, 0.55, 0.6, 0.65],
         ylab=[0.0, 0.1, 0.2, 0.3, 0.4, 0.5, 0.6], yfmt=".2f", tx=490, ty=16,
         green=ell_df(d_green_x, d_green_y, d_green_a, d_green_c, d_green_t),
         grey=ell_df(d_grey_x, d_grey_y, d_grey_a, d_grey_c, d_grey_t),
         labels=[("1200", 1.28, 0.208), ("1600", 2.81, 0.282), ("2000", 5.08, 0.387), ("2400", 8.54, 0.475),
                 ("2800", 13.69, 0.564)],
         letter=("d)", 0.37, 0.611), leg=(10.45, 11.04, 0.082, 0.037), legtext=d_leg)
F = dict(H=430, xdom=[1, 14.1], ydom=[0.2, 0.551], step=100,
         xticks=[1, 2, 3, 4, 5, 6, 7, 8, 9, 10, 11, 12, 13, 14], xlab=[1, 3, 5, 7, 9, 11, 13],
         yticks=[0.2, 0.25, 0.3, 0.35, 0.4, 0.45, 0.5, 0.55], ylab=[0.2, 0.3, 0.4, 0.5], yfmt=".1f", tx=496, ty=16,
         green=ell_df(f_green_x, f_green_y, f_green_a, f_green_c, f_green_t),
         grey=ell_df(f_grey_x, f_grey_y, f_grey_a, f_grey_c, f_grey_t),
         labels=[("1300", 1.96, 0.2286), ("1500", 2.77, 0.267), ("1700", 3.71, 0.307), ("1900", 4.86, 0.348),
                 ("2100", 6.25, 0.39), ("2300", 8.0, 0.434), ("2500", 10.06, 0.48), ("2700", 12.68, 0.526)],
         letter=("f)", 1.21, 0.530), leg=(8.61, 9.36, 0.238, 0.2163), legtext=f_leg)
Hh = dict(H=432, xdom=[0, 22.2], ydom=[0.1, 0.7], step=200,
          xticks=[0, 2, 4, 6, 8, 10, 12, 14, 16, 18, 20, 22], xlab=[0, 4, 8, 12, 16, 20],
          yticks=[0.1, 0.15, 0.2, 0.25, 0.3, 0.35, 0.4, 0.45, 0.5, 0.55, 0.6, 0.65, 0.7],
          ylab=[0.1, 0.2, 0.3, 0.4, 0.5, 0.6, 0.7], yfmt=".1f", tx=486, ty=26,
          green=ell_df(h_green_x, h_green_y, h_green_a, h_green_c, h_green_t),
          grey=ell_df(h_grey_x, h_grey_y, h_grey_a, h_grey_c, h_grey_t),
          labels=[("1400", 1.95, 0.25), ("1800", 3.87, 0.331), ("2200", 6.7, 0.414), ("2600", 10.93, 0.505),
                  ("3000", 17.19, 0.601)],
          letter=("h)", 0.40, 0.674), leg=(12.99, 14.27, 0.160, 0.123), legtext=h_leg)

panels = [left_panel(A), conc_panel(B), left_panel(C), conc_panel(D),
          left_panel(E), conc_panel(F), left_panel(G), conc_panel(Hh)]

chart = alt.concat(*panels, columns=2, spacing={"row": 38, "column": 83}, bounds="flush").properties(
    padding={"left": 15, "top": 14, "right": 2, "bottom": 2}
).configure(font=FONT).configure_view(stroke="#474747", strokeWidth=2.4)

chart.save("out.html", embed_options={"renderer": "svg", "actions": False})
